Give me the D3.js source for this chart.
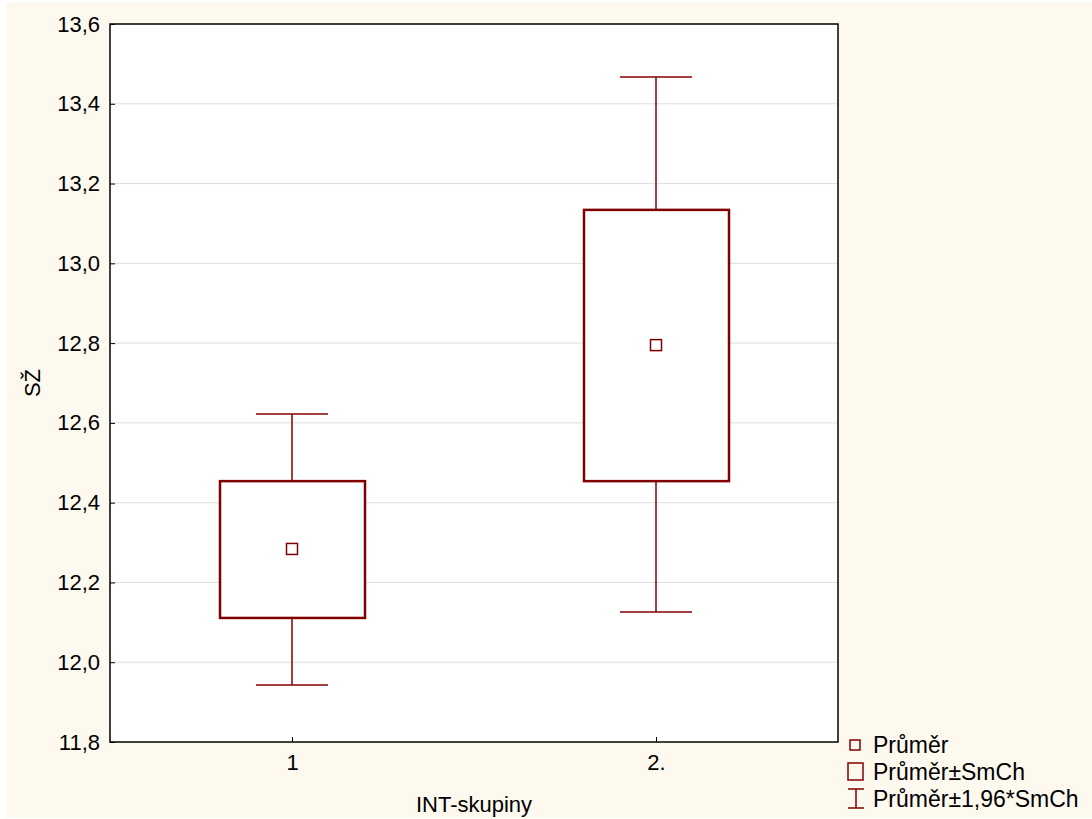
<!DOCTYPE html>
<html>
  <head>
    <meta charset="utf-8">
    <title>SZ box plot</title>
    <style>
      body { margin: 0; background: #fff; }
      text { font-family: "Liberation Sans", Arial, sans-serif; fill: #000; }
    </style>
  </head>
  <body>
    <div class="one-graph"></div>
    <script src="https://cdn.jsdelivr.net/npm/d3@7/dist/d3.min.js"></script>
    <script>
        var w = 1092, h = 819;
        var groups = ["1", "2."];
        var means = [12.284, 12.795];
        var seLow = [12.111, 12.454];
        var seHigh = [12.454, 13.134];
        var ciLow = [11.943, 12.126];
        var ciHigh = [12.622, 13.467];
        var yTicks = [11.8, 12.0, 12.2, 12.4, 12.6, 12.8, 13.0, 13.2, 13.4, 13.6];
        var legendLabels = ["Průměr", "Průměr±SmCh", "Průměr±1,96*SmCh"];
        var red = "#800000";
        var fs = "22px";

        var svg = d3.select(".one-graph")
        	.append("svg")
        	.attr("width", w)
        	.attr("height", h);

        // cream background
        svg.append("rect")
        	.attr("x", 6).attr("y", 3)
        	.attr("width", w - 6).attr("height", h - 4)
        	.attr("fill", "#fdf9ee");

        var pl = 110, pr = 838, pt = 24, pb = 742;

        var x = d3.scalePoint().domain(groups).range([pl, pr]).padding(0.5);
        var y = d3.scaleLinear().domain([11.8, 13.6]).range([pb, pt]);

        svg.append("rect")
        	.attr("x", pl).attr("y", pt)
        	.attr("width", pr - pl).attr("height", pb - pt)
        	.attr("fill", "#fff");

        // grid
        svg.selectAll(".grid")
        	.data(yTicks.slice(1, -1))
        	.enter().append("line")
        	.attr("x1", pl).attr("x2", pr)
        	.attr("y1", function(d) { return y(d); })
        	.attr("y2", function(d) { return y(d); })
        	.attr("stroke", "#dedede")
        	.attr("stroke-width", 1);

        svg.append("rect")
        	.attr("x", pl).attr("y", pt)
        	.attr("width", pr - pl).attr("height", pb - pt)
        	.attr("fill", "none")
        	.attr("stroke", "#000")
        	.attr("stroke-width", 1.5);

        // axes
        var yAxis = svg.append("g")
        	.attr("transform", "translate(" + pl + ",0)")
        	.call(d3.axisLeft(y).tickValues(yTicks).tickSize(-5).tickPadding(10)
        		.tickFormat(function(d) { return d3.format(".1f")(d).replace(".", ","); }));
        var xAxis = svg.append("g")
        	.attr("transform", "translate(0," + pb + ")")
        	.call(d3.axisBottom(x).tickSize(-5).tickPadding(12));
        [yAxis, xAxis].forEach(function(a) {
        	a.select(".domain").remove();
        	a.selectAll("line").attr("stroke", "#000");
        	a.selectAll("text").style("font-size", fs)
        		.style("font-family", "'Liberation Sans', Arial, sans-serif");
        });

        // whiskers
        var g = svg.selectAll(".box")
        	.data(groups)
        	.enter().append("g")
        	.attr("class", "box");

        g.append("line")
        	.attr("x1", function(d) { return x(d); })
        	.attr("x2", function(d) { return x(d); })
        	.attr("y1", function(d, i) { return y(ciHigh[i]); })
        	.attr("y2", function(d, i) { return y(ciLow[i]); })
        	.attr("stroke", red).attr("stroke-width", 1.5);
        [ciHigh, ciLow].forEach(function(arr) {
        	g.append("line")
        		.attr("x1", function(d) { return x(d) - 36; })
        		.attr("x2", function(d) { return x(d) + 36; })
        		.attr("y1", function(d, i) { return y(arr[i]); })
        		.attr("y2", function(d, i) { return y(arr[i]); })
        		.attr("stroke", red).attr("stroke-width", 1.5);
        });

        g.append("rect")
        	.attr("x", function(d) { return x(d) - 72; })
        	.attr("y", function(d, i) { return y(seHigh[i]); })
        	.attr("width", 145)
        	.attr("height", function(d, i) { return y(seLow[i]) - y(seHigh[i]); })
        	.attr("fill", "#fff")
        	.attr("stroke", red).attr("stroke-width", 2.5);

        g.append("rect")
        	.attr("x", function(d) { return x(d) - 5.5; })
        	.attr("y", function(d, i) { return y(means[i]) - 5.5; })
        	.attr("width", 11).attr("height", 11)
        	.attr("fill", "#fff")
        	.attr("stroke", red).attr("stroke-width", 1.5);

        // axis titles
        svg.append("text")
        	.attr("transform", "translate(40,383) rotate(-90)")
        	.style("text-anchor", "middle")
        	.style("font-size", fs)
        	.text("SŽ");
        svg.append("text")
        	.attr("x", 474).attr("y", 812)
        	.style("text-anchor", "middle")
        	.style("font-size", fs)
        	.text("INT-skupiny");

        // legend
        var leg = svg.append("g");
        leg.append("rect").attr("x", 850).attr("y", 740).attr("width", 10).attr("height", 10)
        	.attr("fill", "none").attr("stroke", red).attr("stroke-width", 1.5);
        leg.append("rect").attr("x", 848).attr("y", 763).attr("width", 15).attr("height", 17)
        	.attr("fill", "none").attr("stroke", red).attr("stroke-width", 1.5);
        leg.append("path").attr("d", "M848,789H864M856,789V808M848,808H864")
        	.attr("fill", "none").attr("stroke", red).attr("stroke-width", 1.5);
        leg.selectAll(".lt")
        	.data(legendLabels)
        	.enter().append("text")
        	.attr("x", 873)
        	.attr("y", function(d, i) { return 753 + i * 27; })
        	.style("font-size", "23px")
        	.text(function(d) { return d; });
    </script>
  </body>
</html>
